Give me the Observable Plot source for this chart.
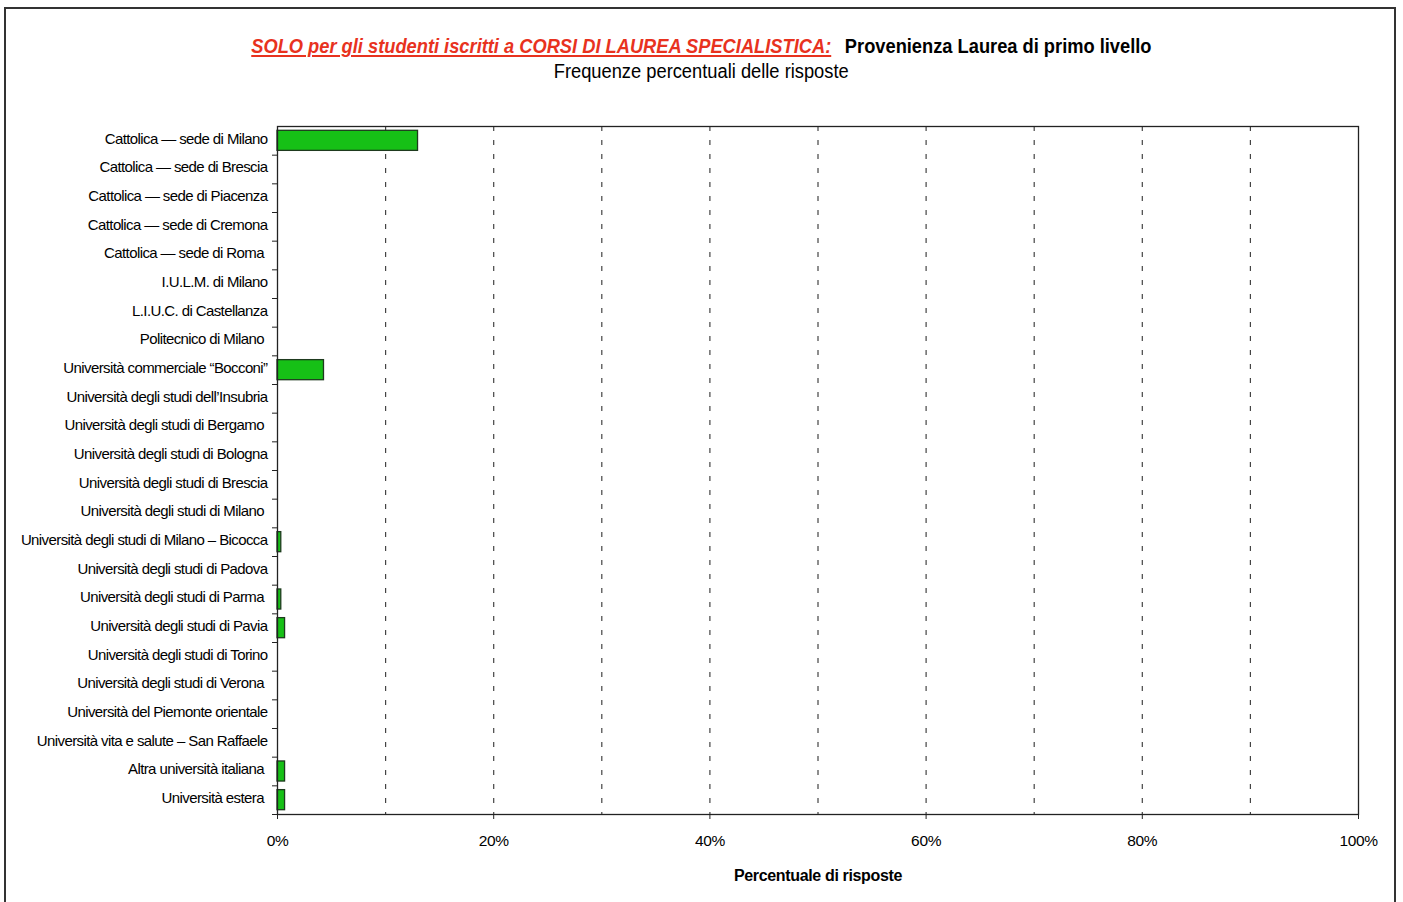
<!DOCTYPE html>
<html>
<head>
<meta charset="utf-8">
<script src="https://cdn.jsdelivr.net/npm/d3@7"></script>
<script src="https://cdn.jsdelivr.net/npm/@observablehq/plot@0.6"></script>
<style>
  html, body { margin: 0; padding: 0; background: #fff; overflow: hidden; }
  body { width: 1403px; height: 902px; position: relative; font-family: "Liberation Sans", Arial, sans-serif; }
  #border { position: absolute; left: 4px; top: 7px; width: 1388px; height: 900px; border: 2px solid #333; border-bottom: none; z-index: 2; pointer-events: none; }
  #head { position: absolute; left: 0; top: 0; width: 1403px; height: 100px; }
  #title { position: absolute; top: 34px; left: 0; width: 1403px; text-align: center; font-size: 21px; font-weight: bold; white-space: nowrap; }
  #title .inner { display: inline-block; transform: scaleX(0.87); transform-origin: center; }
  #title .red { color: #e8321e; font-style: italic; text-decoration: underline; margin-right: 4px; }
  #subtitle { position: absolute; top: 60px; left: 0; width: 1403px; text-align: center; font-size: 20px; white-space: nowrap; }
  #subtitle .inner { display: inline-block; transform: scaleX(0.915); transform-origin: center; }
  #chart { position: absolute; left: 0; top: 100px; }
  #chart svg text { letter-spacing: -0.35px; }
  #chart svg g.ylab text { letter-spacing: -0.6px; }
</style>
</head>
<body>
<div id="border"></div>
<div id="head">
  <div id="title"><span class="inner"><span class="red">SOLO per gli studenti iscritti a CORSI DI LAUREA SPECIALISTICA:</span>&nbsp;&nbsp;Provenienza Laurea di primo livello</span></div>
  <div id="subtitle"><span class="inner">Frequenze percentuali delle risposte</span></div>
</div>
<div id="chart"></div>
<script>
const categories = [
  "Cattolica — sede di Milano",
  "Cattolica — sede di Brescia",
  "Cattolica — sede di Piacenza",
  "Cattolica — sede di Cremona",
  "Cattolica — sede di Roma\u00a0",
  "I.U.L.M. di Milano",
  "L.I.U.C. di Castellanza",
  "Politecnico di Milano\u00a0",
  "Università commerciale “Bocconi”",
  "Università degli studi dell’Insubria",
  "Università degli studi di Bergamo\u00a0",
  "Università degli studi di Bologna",
  "Università degli studi di Brescia",
  "Università degli studi di Milano\u00a0",
  "Università degli studi di Milano – Bicocca",
  "Università degli studi di Padova",
  "Università degli studi di Parma\u00a0",
  "Università degli studi di Pavia",
  "Università degli studi di Torino",
  "Università degli studi di Verona\u00a0",
  "Università del Piemonte orientale",
  "Università vita e salute – San Raffaele",
  "Altra università italiana\u00a0",
  "Università estera\u00a0"
];
const percentages = [13.0, 0, 0, 0, 0, 0, 0, 0, 4.3, 0, 0, 0, 0, 0, 0.35, 0, 0.35, 0.7, 0, 0, 0, 0, 0.7, 0.7];
const xTicks = [0, 20, 40, 60, 80, 100];
const gridTicks = [10, 20, 30, 40, 50, 60, 70, 80, 90];
const xLabel = ["Percentuale di risposte"];

const data = categories.map((c, i) => ({category: c, value: percentages[i]}));
const W = 1403, H = 802, mT = 26, mB = 88, mL = 277, mR = 45;
const step = (H - mT - mB) / categories.length;
const font = "'Liberation Sans', Arial, sans-serif";

const chart = Plot.plot({
  width: W,
  height: H,
  marginTop: mT,
  marginBottom: mB,
  marginLeft: mL,
  marginRight: mR,
  style: {fontFamily: font, fontSize: "15px", color: "#000", background: "transparent"},
  x: {domain: [0, 100], ticks: xTicks, tickFormat: d => d + "%"},
  y: {domain: categories, paddingInner: 0.3, paddingOuter: 0.15, round: false},
  marks: [
    Plot.ruleX(gridTicks, {stroke: "#444", strokeWidth: 1.2, strokeDasharray: "5,9"}),
    Plot.barX(data.filter(d => d.value > 0), {x: "value", y: "category", fill: "#16c016", stroke: "#1e3a1e", strokeWidth: 1.3}),
    Plot.frame({stroke: "#222", strokeWidth: 1.3}),
    Plot.axisY({tickSize: 0, tickPadding: 10, fontSize: 15, label: null, dy: -2, className: "ylab"}),
    Plot.axisY({tickSize: 5, text: null, label: null, dy: step / 2, stroke: "#222"}),
    Plot.axisX({ticks: xTicks, tickSize: 5, tickPadding: 15, fontSize: 15.5, label: null, tickFormat: d => d + "%", stroke: "#222"}),
    Plot.text(xLabel, {text: d => d, frameAnchor: "bottom", dy: 66, fontWeight: "bold", fontSize: 16})
  ]
});
chart.querySelectorAll("g[aria-label='y-axis tick label']").forEach(g => g.classList.add("ylab"));
document.getElementById("chart").appendChild(chart);
</script>
</body>
</html>
